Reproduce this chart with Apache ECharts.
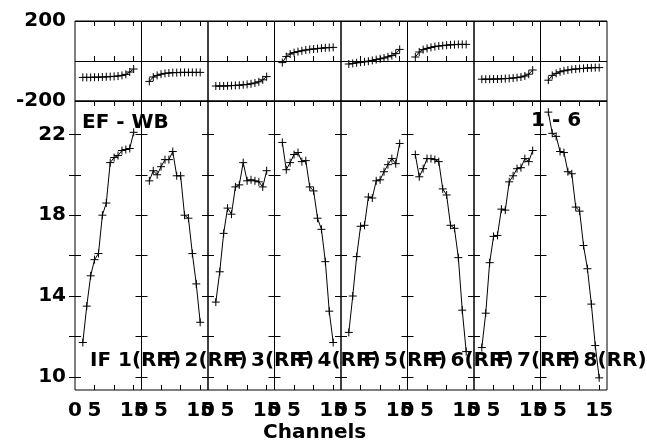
<!DOCTYPE html>
<html>
<head>
<meta charset="utf-8">
<script src="https://cdn.jsdelivr.net/npm/echarts@6/dist/echarts.min.js"></script>
<style>
    html, body { margin: 0; padding: 0; background: #fff; }
    #main { width: 647px; height: 443px; }
</style>
</head>
<body>
<div id="main"></div>
<script>
// 通道号(每个IF相同)
var channels = [2, 3, 4, 5, 6, 7, 8, 9, 10, 11, 12, 13, 14, 15]
var ifNames = ['IF 1(RR)', 'IF 2(RR)', 'IF 3(RR)', 'IF 4(RR)', 'IF 5(RR)', 'IF 6(RR)', 'IF 7(RR)', 'IF 8(RR)']

// 振幅
var amp1 = [11.7, 13.5, 15.0, 15.8, 16.1, 18.0, 18.6, 20.6, 20.85, 20.95, 21.2, 21.25, 21.3, 22.1]
var amp2 = [19.7, 20.2, 20.0, 20.4, 20.75, 20.75, 21.15, 19.95, 19.95, 18.0, 17.85, 16.1, 14.6, 12.7]
var amp3 = [13.7, 15.2, 17.1, 18.35, 18.05, 19.4, 19.5, 20.6, 19.7, 19.75, 19.7, 19.65, 19.4, 20.2]
var amp4 = [21.6, 20.25, 20.6, 21.0, 21.1, 20.65, 20.7, 19.4, 19.2, 17.85, 17.3, 15.7, 13.25, 11.7]
var amp5 = [12.2, 14.0, 15.95, 17.45, 17.5, 18.9, 18.85, 19.7, 19.75, 20.15, 20.5, 20.8, 20.55, 21.55]
var amp6 = [21.0, 19.9, 20.3, 20.8, 20.8, 20.75, 20.65, 19.3, 19.0, 17.5, 17.35, 15.9, 13.3, 11.25]
var amp7 = [11.45, 13.15, 15.65, 16.95, 17.0, 18.3, 18.25, 19.65, 19.95, 20.3, 20.35, 20.8, 20.65, 21.2]
var amp8 = [23.1, 22.05, 21.9, 21.15, 21.1, 20.15, 20.05, 18.4, 18.2, 16.5, 15.35, 13.6, 11.55, 9.95]

// 相位
var pha1 = [-82, -82, -82, -81, -81, -80, -79, -78, -77, -75, -72, -67, -55, -40]
var pha2 = [-102, -80, -72, -66, -62, -60, -58, -58, -57, -57, -57, -57, -57, -57]
var pha3 = [-125, -125, -125, -124, -123, -122, -121, -119, -117, -114, -110, -104, -94, -78]
var pha4 = [-8, 22, 35, 42, 47, 51, 55, 58, 60, 62, 64, 66, 67, 68]
var pha5 = [-15, -12, -9, -6, -4, -1, 3, 7, 11, 15, 21, 27, 37, 58]
var pha6 = [20, 45, 57, 63, 68, 72, 75, 77, 79, 81, 82, 83, 83, 83]
var pha7 = [-91, -91, -91, -90, -90, -89, -88, -87, -85, -83, -80, -75, -66, -45]
var pha8 = [-96, -72, -62, -54, -49, -45, -42, -40, -38, -37, -35, -34, -33, -33]

// 刻度与标签
var ampTicks = [10, 12, 14, 16, 18, 20, 22]
var ampLabels = [10, 14, 18, 22]
var phaLabels = [-200, 200]
var chanTicks = [5, 10, 15]
var chanLabels = [0, 5, 15]

var ampData = [amp1, amp2, amp3, amp4, amp5, amp6, amp7, amp8]
var phaData = [pha1, pha2, pha3, pha4, pha5, pha6, pha7, pha8]

var font = 'DejaVu Sans'
var left0 = 75
var panelW = 66.5
var plus = 'path://M0,5L10,5M5,0L5,10'

function pairs(ys) {
    return channels.map((c, k) => [c, ys[k]])
}

function xAxisOf(gridIndex, pos, labels) {
    return {
        type: 'value', gridIndex: gridIndex, position: pos,
        min: 0, max: 17,
        axisLine: { show: false },
        axisTick: { show: true, inside: true, length: 5, customValues: chanTicks, lineStyle: { color: '#000' } },
        splitLine: { show: false },
        axisLabel: {
            show: labels, margin: 11, customValues: chanLabels,
            fontFamily: font, fontWeight: 'bold', fontSize: 20, color: '#000'
        }
    }
}

var grids = [], xAxes = [], yAxes = [], series = [], graphics = []

for (let i = 0; i < 8; i++) {
    let x = left0 + i * panelW
    // 上: 相位, 下: 振幅
    grids.push({ left: x, top: 21, width: panelW, height: 80, show: true, borderColor: '#000', borderWidth: 1, backgroundColor: 'transparent' })
    grids.push({ left: x, top: 101, width: panelW, height: 289, show: true, borderColor: '#000', borderWidth: 1, backgroundColor: 'transparent' })

    xAxes.push(xAxisOf(2 * i, 'bottom', false))
    xAxes.push(xAxisOf(2 * i, 'top', false))
    xAxes.push(xAxisOf(2 * i + 1, 'bottom', true))
    xAxes.push(xAxisOf(2 * i + 1, 'top', false))

    yAxes.push({
        type: 'value', gridIndex: 2 * i, min: -200, max: 200, interval: 200,
        axisLine: { show: false }, axisTick: { show: false },
        splitLine: { show: true, lineStyle: { color: '#000', width: 1 } },
        axisLabel: {
            show: i === 0, margin: 9, customValues: phaLabels,
            fontFamily: font, fontWeight: 'bold', fontSize: 20, color: '#000'
        }
    })
    for (let side of ['left', 'right']) {
        yAxes.push({
            type: 'value', gridIndex: 2 * i + 1, position: side,
            min: 9.35, max: 23.65,
            axisLine: { show: false },
            axisTick: { show: true, inside: true, length: 6, customValues: ampTicks, lineStyle: { color: '#000' } },
            splitLine: { show: false },
            axisLabel: {
                show: i === 0 && side === 'left', margin: 9, customValues: ampLabels,
                fontFamily: font, fontWeight: 'bold', fontSize: 20, color: '#000'
            }
        })
    }

    let common = {
        type: 'line', symbol: plus, symbolSize: 8, showSymbol: true, showAllSymbol: true,
        lineStyle: { color: '#000', width: 1 },
        itemStyle: { color: '#000', borderColor: '#000', borderWidth: 1 },
        emphasis: { disabled: true }, silent: true
    }
    series.push(Object.assign({}, common, { xAxisIndex: 4 * i, yAxisIndex: 3 * i, data: pairs(phaData[i]) }))
    series.push(Object.assign({}, common, { xAxisIndex: 4 * i + 2, yAxisIndex: 3 * i + 1, data: pairs(ampData[i]) }))

    graphics.push({
        type: 'text', left: 90 + i * panelW, top: 351, z: 100,
        style: { text: ifNames[i], font: 'bold 20px "' + font + '"', fill: '#000' }
    })
}

graphics.push({ type: 'text', left: 82, top: 113, z: 100, style: { text: 'EF - WB', font: 'bold 20px "' + font + '"', fill: '#000' } })
graphics.push({ type: 'text', left: 531, top: 111, z: 100, style: { text: '1 - 6', font: 'bold 20px "' + font + '"', fill: '#000' } })
graphics.push({ type: 'text', left: 263, top: 423, z: 100, style: { text: 'Channels', font: 'bold 20px "' + font + '"', fill: '#000' } })

var myChart = echarts.init(document.getElementById('main'))
myChart.setOption({
    animation: false,
    backgroundColor: '#fff',
    grid: grids,
    xAxis: xAxes,
    yAxis: yAxes,
    series: series,
    graphic: graphics
})
</script>
</body>
</html>
